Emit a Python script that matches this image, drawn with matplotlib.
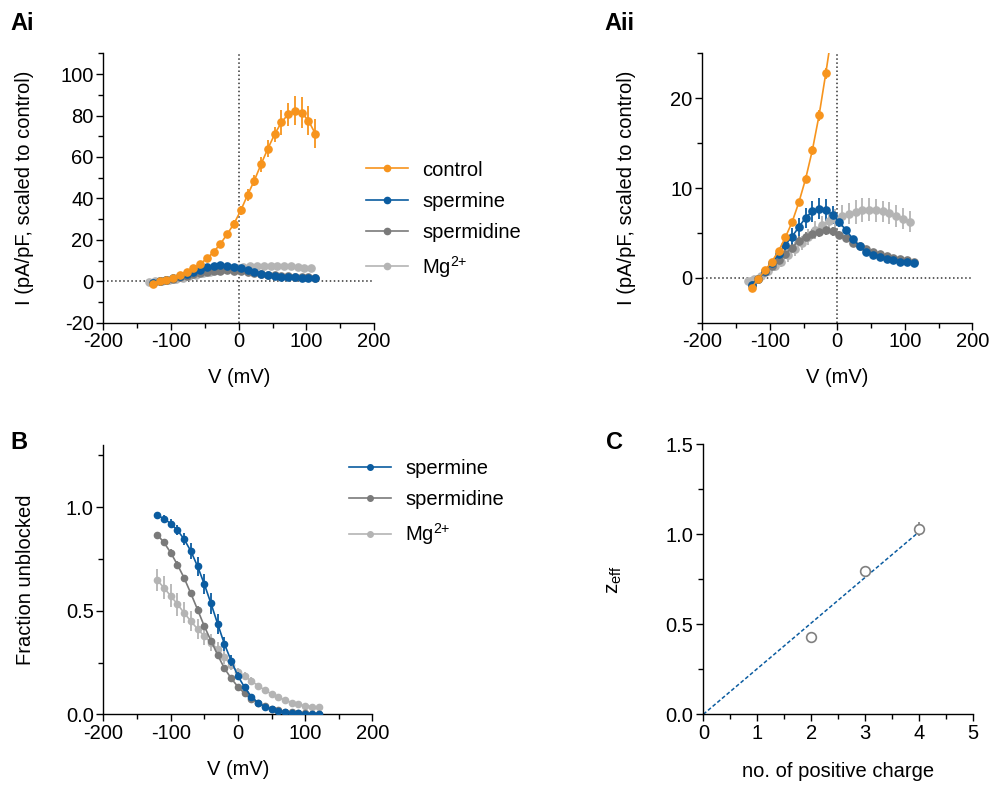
import numpy as np
import matplotlib
matplotlib.use("Agg")
import matplotlib.pyplot as plt
from matplotlib.ticker import MultipleLocator
from matplotlib.lines import Line2D

plt.rcParams['font.family'] = ['Liberation Sans', 'DejaVu Sans']
plt.rcParams['font.size'] = 14.5
plt.rcParams['axes.unicode_minus'] = False
plt.rcParams['mathtext.fontset'] = 'custom'
plt.rcParams['mathtext.rm'] = 'Liberation Sans'
plt.rcParams['mathtext.it'] = 'Liberation Sans'

# --- data ---
v_main = np.arange(-127, 114, 10)
v_mg = np.arange(-133, 108, 10)

control = [-1.1, -0.1, 0.85, 1.8, 3.0, 4.5, 6.2, 8.4, 11.0, 14.2, 18.1, 22.8,
           27.8, 34.2, 41.6, 48.6, 56.5, 64.0, 70.9, 76.7, 80.6, 82.2, 81.4, 77.5, 71.3]
control_err = [0.2, 0.2, 0.2, 0.3, 0.3, 0.3, 0.4, 0.4, 0.4, 0.5, 0.6, 0.6,
               2.0, 2.0, 3.0, 2.8, 3.6, 4.0, 3.6, 6.0, 5.5, 7.0, 7.5, 7.0, 7.0]

spermine = [-0.8, -0.1, 0.75, 1.7, 2.6, 3.7, 4.6, 5.65, 6.7, 7.4, 7.7, 7.55,
            7.05, 6.2, 5.3, 4.35, 3.5, 2.9, 2.55, 2.3, 2.05, 1.95, 1.8, 1.75, 1.7]
spermine_err = [0.2, 0.2, 0.2, 0.3, 0.4, 0.6, 0.9, 1.0, 1.1, 1.2, 1.2, 1.2,
                1.0, 0.5, 0.4, 0.3, 0.2, 0.2, 0.2, 0.2, 0.2, 0.2, 0.2, 0.2, 0.2]

spermidine = [-0.75, -0.1, 0.6, 1.3, 2.0, 2.7, 3.35, 4.15, 4.6, 4.9, 5.1, 5.3,
              5.2, 4.8, 4.45, 3.9, 3.6, 3.2, 2.9, 2.7, 2.45, 2.25, 2.1, 1.95, 1.8]
spermidine_err = [0.2, 0.2, 0.2, 0.3, 0.4, 0.5, 0.5, 0.5, 0.5, 0.5, 0.5, 0.5,
                  0.5, 0.4, 0.3, 0.3, 0.3, 0.2, 0.2, 0.2, 0.2, 0.2, 0.2, 0.2, 0.2]

mg = [-0.35, -0.1, 0.25, 0.75, 1.3, 1.8, 2.5, 3.2, 3.9, 4.55, 5.3, 5.9,
      6.3, 6.6, 6.9, 7.15, 7.35, 7.55, 7.6, 7.5, 7.4, 7.2, 6.9, 6.6, 6.25]
mg_err = [0.2, 0.2, 0.3, 0.4, 0.5, 0.6, 0.7, 0.8, 0.8, 0.9, 1.0, 1.0,
          1.0, 1.1, 1.2, 1.2, 1.3, 1.3, 1.3, 1.3, 1.2, 1.2, 1.2, 1.2, 1.2]

v_block = np.arange(-120, 121, 10)
frac_spermine = [0.961, 0.945, 0.921, 0.889, 0.846, 0.788, 0.715, 0.629, 0.535, 0.436,
                 0.339, 0.259, 0.185, 0.130, 0.085, 0.056, 0.037, 0.024, 0.016, 0.010,
                 0.006, 0.005, 0.003, 0.002, 0.002]
frac_spermine_err = [0.012, 0.015, 0.02, 0.025, 0.03, 0.04, 0.045, 0.05, 0.05, 0.05,
                     0.035, 0.025, 0.02, 0.015, 0.01, 0.008, 0.006, 0.004, 0.003, 0.002,
                     0.002, 0.002, 0.002, 0.002, 0.002]
frac_spermidine = [0.868, 0.830, 0.781, 0.723, 0.659, 0.584, 0.506, 0.426, 0.355, 0.286,
                   0.222, 0.174, 0.133, 0.101, 0.074, 0.053, 0.040, 0.027, 0.021, 0.013,
                   0.010, 0.006, 0.005, 0.003, 0.002]
frac_spermidine_err = [0.012, 0.012, 0.015, 0.015, 0.015, 0.015, 0.015, 0.015, 0.012, 0.012,
                       0.01, 0.01, 0.008, 0.006, 0.005, 0.004, 0.003, 0.003, 0.002, 0.002,
                       0.002, 0.002, 0.002, 0.002, 0.002]
frac_mg = [0.648, 0.611, 0.572, 0.532, 0.490, 0.450, 0.412, 0.378, 0.346, 0.314,
           0.275, 0.238, 0.206, 0.185, 0.161, 0.138, 0.117, 0.098, 0.082, 0.069,
           0.056, 0.048, 0.042, 0.037, 0.034]
frac_mg_err = [0.055, 0.055, 0.055, 0.055, 0.05, 0.05, 0.05, 0.045, 0.04, 0.035,
               0.03, 0.025, 0.02, 0.02, 0.018, 0.015, 0.012, 0.01, 0.008, 0.007,
               0.006, 0.005, 0.005, 0.004, 0.004]

charge = [2, 3, 4]
zeff = [0.431, 0.798, 1.030]
zeff_err = [0.01, 0.015, 0.04]
fit_x = [0, 4]
fit_y = [0, 1.015]

mg_label = 'Mg$^{2{+}}$'

c_ctrl = '#F7941D'
c_spm = '#0B5CA0'
c_spd = '#7A7A7A'
c_mg = '#B4B4B4'

fig = plt.figure(figsize=(9.91, 7.86), dpi=100, facecolor='white')

ax_ai = fig.add_axes([0.1043, 0.5894, 0.2732, 0.3427])
ax_aii = fig.add_axes([0.7087, 0.5894, 0.2724, 0.3427])
ax_b = fig.add_axes([0.1043, 0.0912, 0.2715, 0.3426])
ax_c = fig.add_axes([0.7097, 0.0912, 0.2724, 0.3435])


def style(ax):
    for s in ['top', 'right']:
        ax.spines[s].set_visible(False)
    for s in ['left', 'bottom']:
        ax.spines[s].set_linewidth(1.0)
    ax.tick_params(which='major', direction='out', length=5, width=1.0, labelsize=14.5, pad=2)
    ax.tick_params(which='minor', direction='out', length=3.5, width=1.0)


def iv_series(ax, v, y, err, color, ms=5.2):
    ax.errorbar(v, y, yerr=err, color=color, marker='o', markersize=ms,
                lw=1.2, elinewidth=1.3, capsize=0)


def legend_handles(colors, ms):
    return [Line2D([], [], color=c, marker='o', markersize=ms, lw=1.2) for c in colors]


for ax in (ax_ai, ax_aii):
    iv_series(ax, v_mg, mg, mg_err, c_mg)
    iv_series(ax, v_main, spermidine, spermidine_err, c_spd)
    iv_series(ax, v_main, spermine, spermine_err, c_spm)
    iv_series(ax, v_main, control, control_err, c_ctrl)
    ax.axhline(0, color='#333333', ls=':', lw=1.1, zorder=0)
    ax.axvline(0, color='#333333', ls=':', lw=1.1, zorder=0)
    ax.set_xlim(-200, 200)
    ax.xaxis.set_major_locator(MultipleLocator(100))
    ax.xaxis.set_minor_locator(MultipleLocator(50))
    ax.set_xlabel('V (mV)', fontsize=14.5, labelpad=12)
    style(ax)

ax_ai.set_ylabel('I (pA/pF, scaled to control)', fontsize=14.5, labelpad=19)
ax_aii.set_ylabel('I (pA/pF, scaled to control)', fontsize=14.5, labelpad=25)

ax_ai.set_ylim(-20, 110)
ax_ai.set_yticks(np.arange(-20, 101, 20))
ax_ai.yaxis.set_minor_locator(MultipleLocator(10))

ax_aii.set_ylim(-5, 25)
ax_aii.set_yticks([0, 10, 20])
ax_aii.yaxis.set_minor_locator(MultipleLocator(5))

ax_ai.legend(legend_handles([c_ctrl, c_spm, c_spd, c_mg], 4.5),
             ['control', 'spermine', 'spermidine', mg_label],
             loc='upper left', bbox_to_anchor=(0.361, 0.806),
             bbox_transform=fig.transFigure, frameon=False, fontsize=14.5,
             handlelength=2.1, handletextpad=0.7, labelspacing=0.6, borderaxespad=0)

# panel B
ax_b.errorbar(v_block, frac_spermine, yerr=frac_spermine_err, color=c_spm, marker='o',
              markersize=4.5, lw=1.2, elinewidth=1.3, capsize=0, zorder=3)
ax_b.errorbar(v_block, frac_spermidine, yerr=frac_spermidine_err, color=c_spd, marker='o',
              markersize=4.5, lw=1.2, elinewidth=1.3, capsize=0, zorder=2)
ax_b.errorbar(v_block, frac_mg, yerr=frac_mg_err, color=c_mg, marker='o',
              markersize=4.5, lw=1.2, elinewidth=1.3, capsize=0, zorder=1)
ax_b.set_xlim(-200, 200)
ax_b.set_ylim(0, 1.3)
ax_b.xaxis.set_major_locator(MultipleLocator(100))
ax_b.xaxis.set_minor_locator(MultipleLocator(50))
ax_b.set_yticks([0, 0.5, 1.0])
ax_b.set_yticklabels(['0.0', '0.5', '1.0'])
ax_b.yaxis.set_minor_locator(MultipleLocator(0.25))
ax_b.set_xlabel('V (mV)', fontsize=14.5, labelpad=12)
ax_b.set_ylabel('Fraction unblocked', fontsize=14.5, labelpad=22)
style(ax_b)
ax_b.legend(legend_handles([c_spm, c_spd, c_mg], 4.0),
            ['spermine', 'spermidine', mg_label],
            loc='upper left', bbox_to_anchor=(0.344, 0.426),
            bbox_transform=fig.transFigure, frameon=False, fontsize=14.5,
            handlelength=2.1, handletextpad=0.7, labelspacing=0.6, borderaxespad=0)

# panel C
ax_c.plot(fit_x, fit_y, color=c_spm, ls=(0, (2.5, 1.5)), lw=1.1)
ax_c.errorbar(charge, zeff, yerr=zeff_err, fmt='o', mfc='white', mec='#808080',
              ecolor='#808080', markersize=7, mew=1.2, elinewidth=1.2, capsize=0)
ax_c.set_xlim(0, 5)
ax_c.set_ylim(0, 1.5)
ax_c.xaxis.set_major_locator(MultipleLocator(1))
ax_c.xaxis.set_minor_locator(MultipleLocator(0.5))
ax_c.set_yticks([0, 0.5, 1.0, 1.5])
ax_c.set_yticklabels(['0.0', '0.5', '1.0', '1.5'])
ax_c.yaxis.set_minor_locator(MultipleLocator(0.25))
ax_c.set_xlabel('no. of positive charge', fontsize=14.5, labelpad=14)
ax_c.set_ylabel('z$_{\\mathregular{eff}}$', fontsize=15, labelpad=30)
style(ax_c)

# panel labels
for txt, x, y in [('Ai', 0.010, 0.970), ('Aii', 0.610, 0.970),
                  ('B', 0.010, 0.437), ('C', 0.611, 0.437)]:
    fig.text(x, y, txt, fontsize=17, fontweight='bold', va='center', ha='left')

fig.savefig('out.png', dpi=100, facecolor='white')
